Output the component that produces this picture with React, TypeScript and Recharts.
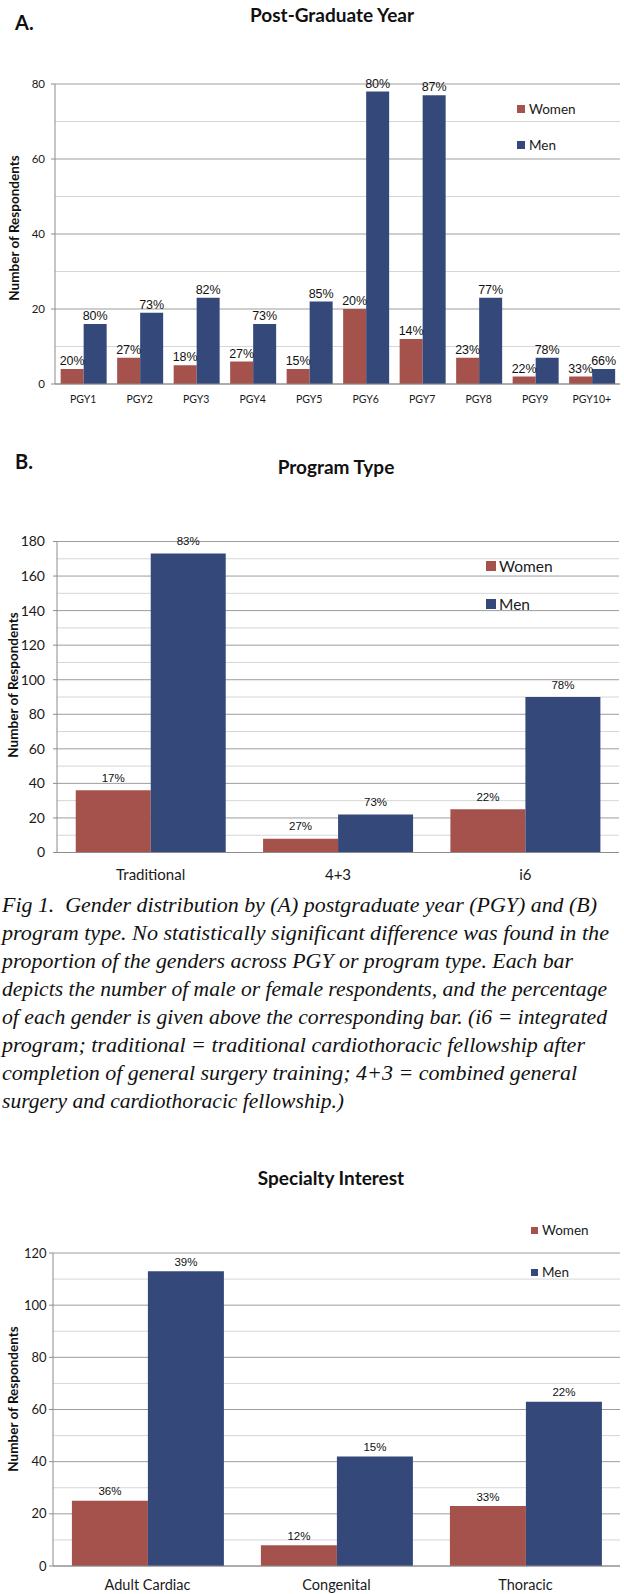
import React from 'react';
import { BarChart, Bar, XAxis, YAxis, CartesianGrid, LabelList } from 'recharts';

// series
const seriesNames = ['Women', 'Men'];
const seriesColors = ['#A5524C', '#34487A'];

// A. Post-Graduate Year
const pgyCategories = ['PGY1', 'PGY2', 'PGY3', 'PGY4', 'PGY5', 'PGY6', 'PGY7', 'PGY8', 'PGY9', 'PGY10+'];
const pgyWomen = [4, 7, 5, 6, 4, 20, 12, 7, 2, 2];
const pgyMen = [16, 19, 23, 16, 22, 78, 77, 23, 7, 4];
const pgyWomenPct = ['20%', '27%', '18%', '27%', '15%', '20%', '14%', '23%', '22%', '33%'];
const pgyMenPct = ['80%', '73%', '82%', '73%', '85%', '80%', '87%', '77%', '78%', '66%'];
const pgyTicks = [0, 20, 40, 60, 80];
const pgyMinorTicks = [10, 30, 50, 70];

// B. Program Type
const programCategories = ['Traditional', '4+3', 'i6'];
const programWomen = [36, 8, 25];
const programMen = [173, 22, 90];
const programWomenPct = ['17%', '27%', '22%'];
const programMenPct = ['83%', '73%', '78%'];
const programTicks = [0, 20, 40, 60, 80, 100, 120, 140, 160, 180];
const programMinorTicks = [10, 30, 50, 70, 90, 110, 130, 150, 170];

// Specialty Interest
const specialtyCategories = ['Adult Cardiac', 'Congenital', 'Thoracic'];
const specialtyWomen = [25, 8, 23];
const specialtyMen = [113, 42, 63];
const specialtyWomenPct = ['36%', '12%', '33%'];
const specialtyMenPct = ['39%', '15%', '22%'];
const specialtyTicks = [0, 20, 40, 60, 80, 100, 120];
const specialtyMinorTicks = [10, 30, 50, 70, 90, 110];

const captionLines = [
  'Fig 1.  Gender distribution by (A) postgraduate year (PGY) and (B)',
  'program type. No statistically significant difference was found in the',
  'proportion of the genders across PGY or program type. Each bar',
  'depicts the number of male or female respondents, and the percentage',
  'of each gender is given above the corresponding bar. (i6 = integrated',
  'program; traditional = traditional cardiothoracic fellowship after',
  'completion of general surgery training; 4+3 = combined general',
  'surgery and cardiothoracic fellowship.)',
];
const captionWidths = [595, 607, 571, 605, 605, 583, 575, 342];

const SANS = 'Lato, "Open Sans", sans-serif';
const ARIAL = '"Liberation Sans", Arial, sans-serif';

const buildRows = (cats: string[], women: number[], men: number[], wPct: string[], mPct: string[]) =>
  cats.map((c, i) => ({ category: c, women: women[i], men: men[i], womenPct: wPct[i], menPct: mPct[i] }));

type PanelProps = {
  top: number;
  height: number;
  rows: any[];
  ticks: number[];
  minorTicks: number[];
  plotTop: number;
  plotBottom: number;
  plotLeft: number;
  plotRight: number;
  yTickFont: number;
  yTickMargin: number;
  catFont: number;
  catMargin: number;
  pctFont: number;
  pctOffset: number;
};

const GenderPanel = (p: PanelProps) => {
  const pctStyle = { fontSize: p.pctFont, fill: '#111', fontFamily: ARIAL };
  return (
    <div style={{ position: 'absolute', left: 0, top: p.top }}>
      <BarChart
        width={624}
        height={p.height}
        data={p.rows}
        margin={{ top: p.plotTop - p.top, right: 624 - p.plotRight, bottom: 0, left: 0 }}
        barCategoryGap="10%"
        barGap={0}
      >
        <CartesianGrid vertical={false} stroke="#d6d6d6" horizontalValues={p.minorTicks} />
        <CartesianGrid vertical={false} stroke="#9d9d9d" horizontalValues={p.ticks} />
        <XAxis
          dataKey="category"
          interval={0}
          height={p.top + p.height - p.plotBottom}
          tickLine={false}
          tickSize={0}
          tickMargin={p.catMargin}
          axisLine={{ stroke: '#8c8c8c' }}
          tick={{ fontSize: p.catFont, fill: '#1a1a1a', fontFamily: SANS }}
        />
        <YAxis
          width={p.plotLeft}
          domain={[0, p.ticks[p.ticks.length - 1]]}
          ticks={p.ticks}
          interval={0}
          tickSize={4}
          tickMargin={p.yTickMargin}
          axisLine={{ stroke: '#8c8c8c' }}
          tickLine={{ stroke: '#8c8c8c' }}
          tick={{ fontSize: p.yTickFont, fill: '#1a1a1a', fontFamily: SANS }}
        />
        <Bar dataKey="women" fill={seriesColors[0]} isAnimationActive={false}>
          <LabelList dataKey="womenPct" position="top" offset={p.pctOffset} style={pctStyle} />
        </Bar>
        <Bar dataKey="men" fill={seriesColors[1]} isAnimationActive={false}>
          <LabelList dataKey="menPct" position="top" offset={p.pctOffset} style={pctStyle} />
        </Bar>
      </BarChart>
    </div>
  );
};

const CenterText = ({ x, y, size, children, rotate }: any) => (
  <div
    style={{
      position: 'absolute',
      left: x,
      top: y,
      transform: `translate(-50%, -50%)${rotate ? ' rotate(-90deg)' : ''}`,
      fontFamily: SANS,
      fontWeight: 700,
      fontSize: size,
      color: '#111',
      whiteSpace: 'nowrap',
      lineHeight: 1.2,
    }}
  >
    {children}
  </div>
);

const GenderLegend = ({ left, textLeft, size, centers, font }: any) => (
  <>
    {seriesNames.map((name, i) => (
      <React.Fragment key={name}>
        <div
          style={{
            position: 'absolute',
            left,
            top: centers[i] - size / 2,
            width: size,
            height: size,
            background: seriesColors[i],
          }}
        />
        <div
          style={{
            position: 'absolute',
            left: textLeft,
            top: centers[i],
            transform: 'translateY(-50%)',
            fontFamily: SANS,
            fontSize: font,
            color: '#1a1a1a',
            lineHeight: 1.2,
            whiteSpace: 'nowrap',
          }}
        >
          {name}
        </div>
      </React.Fragment>
    ))}
  </>
);

export default function App() {
  const pgyRows = buildRows(pgyCategories, pgyWomen, pgyMen, pgyWomenPct, pgyMenPct);
  const programRows = buildRows(programCategories, programWomen, programMen, programWomenPct, programMenPct);
  const specialtyRows = buildRows(specialtyCategories, specialtyWomen, specialtyMen, specialtyWomenPct, specialtyMenPct);

  return (
    <div style={{ position: 'absolute', left: 0, top: 0, width: 624, height: 1594, background: '#fff', overflow: 'hidden' }}>
      {/* A */}
      <div style={{ position: 'absolute', left: 15, top: 22, transform: 'translateY(-50%)', fontFamily: SANS, fontWeight: 700, fontSize: 20, color: '#111', lineHeight: 1.2 }}>A.</div>
      <CenterText x={332} y={15} size={19}>Post-Graduate Year</CenterText>
      <GenderPanel
        top={0}
        height={420}
        rows={pgyRows}
        ticks={pgyTicks}
        minorTicks={pgyMinorTicks}
        plotTop={84}
        plotBottom={384}
        plotLeft={55}
        plotRight={620}
        yTickFont={11.5}
        yTickMargin={6}
        catFont={10.5}
        catMargin={12}
        pctFont={12.5}
        pctOffset={4}
      />
      <CenterText x={13.5} y={228} size={13.5} rotate>Number of Respondents</CenterText>
      <GenderLegend left={517} textLeft={529} size={8} centers={[109, 145]} font={13.5} />

      {/* B */}
      <div style={{ position: 'absolute', left: 15, top: 461, transform: 'translateY(-50%)', fontFamily: SANS, fontWeight: 700, fontSize: 20, color: '#111', lineHeight: 1.2 }}>B.</div>
      <CenterText x={336} y={467} size={19}>Program Type</CenterText>
      <GenderPanel
        top={430}
        height={460}
        rows={programRows}
        ticks={programTicks}
        minorTicks={programMinorTicks}
        plotTop={541.5}
        plotBottom={852.5}
        plotLeft={57}
        plotRight={619}
        yTickFont={14}
        yTickMargin={8}
        catFont={15}
        catMargin={16.5}
        pctFont={11.5}
        pctOffset={8.5}
      />
      <CenterText x={13} y={685} size={13.5} rotate>Number of Respondents</CenterText>
      <GenderLegend left={486} textLeft={499} size={9.5} centers={[566, 604]} font={15.5} />

      {/* Caption */}
      <svg width={624} height={240} style={{ position: 'absolute', left: 0, top: 880 }}>
        {captionLines.map((line, i) => (
          <text
            key={i}
            x={2}
            y={31.7 + i * 28.1}
            textLength={captionWidths[i]}
            lengthAdjust="spacingAndGlyphs"
            style={{ whiteSpace: 'pre' }}
            fontFamily='"Liberation Serif", "DejaVu Serif", serif'
            fontStyle="italic"
            fontSize={22}
            fill="#111"
          >
            {line}
          </text>
        ))}
      </svg>

      {/* Specialty Interest */}
      <CenterText x={331} y={1178} size={19}>Specialty Interest</CenterText>
      <GenderPanel
        top={1190}
        height={404}
        rows={specialtyRows}
        ticks={specialtyTicks}
        minorTicks={specialtyMinorTicks}
        plotTop={1253}
        plotBottom={1566}
        plotLeft={53}
        plotRight={620}
        yTickFont={13}
        yTickMargin={2.5}
        catFont={14.5}
        catMargin={13.8}
        pctFont={11.5}
        pctOffset={5.5}
      />
      <CenterText x={12.5} y={1399} size={13.5} rotate>Number of Respondents</CenterText>
      <GenderLegend left={531} textLeft={542} size={7} centers={[1230, 1272]} font={13.5} />
    </div>
  );
}
